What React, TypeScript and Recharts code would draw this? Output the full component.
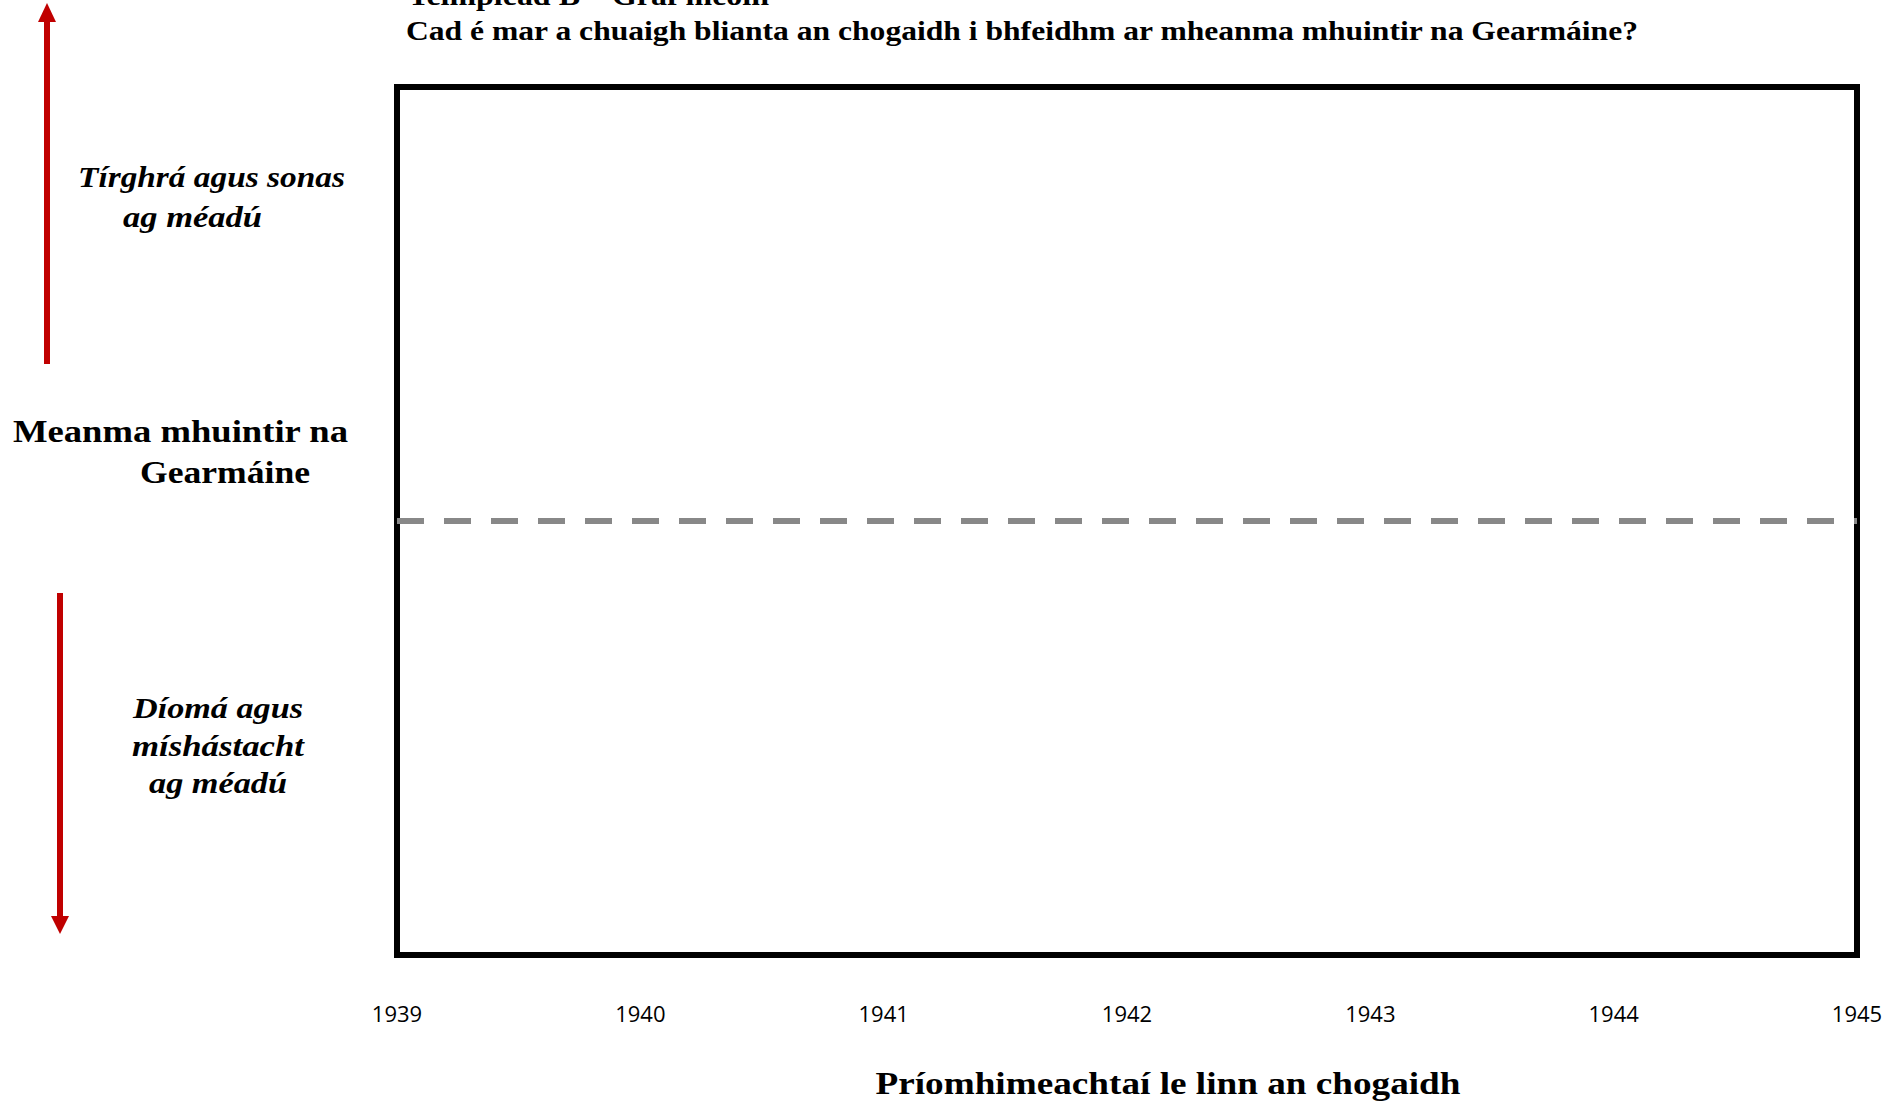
import React from "react";
import {
  LineChart,
  Line,
  XAxis,
  YAxis,
  ReferenceArea,
  ReferenceLine,
  Customized,
} from "recharts";

// Years along the bottom (the chart is an empty template to fill in)
const YEARS = [1939, 1940, 1941, 1942, 1943, 1944, 1945];
// Morale scale: -1 = discontent, 0 = neutral (dashed line), +1 = patriotism
const MORALE_MIN = -1;
const MORALE_MID = 0;
const MORALE_MAX = 1;
// No values entered yet in the template
const MORALE_VALUES: (number | null)[] = [null, null, null, null, null, null, null];

const HEADER = "Teimpléad B – Graf meoin";
const TITLE =
  "Cad é mar a chuaigh blianta an chogaidh i bhfeidhm ar mheanma mhuintir na Gearmáine?";
const X_LABEL = "Príomhimeachtaí le linn an chogaidh";
const Y_LABEL = ["Meanma mhuintir na", "Gearmáine"];
const UP_LABEL = ["Tírghrá agus sonas", "ag méadú"];
const DOWN_LABEL = ["Díomá agus", "míshástacht", "ag méadú"];

const data = YEARS.map((year, i) => ({ year, meanma: MORALE_VALUES[i] }));

const SERIF = "'Liberation Serif', 'DejaVu Serif', serif";
const RED = "#c00000";

function YearTick(props: any) {
  const { x, y, payload } = props;
  return (
    <text
      x={x}
      y={y + 59}
      textAnchor="middle"
      fontFamily="'Open Sans', sans-serif"
      fontSize={22}
      fill="#000"
    >
      {payload.value}
    </text>
  );
}

function Annotations() {
  return (
    <g>
      <text x={408} y={5} fontFamily={SERIF} fontWeight="bold" fontSize={27} textLength={361} lengthAdjust="spacingAndGlyphs">
        {HEADER}
      </text>
      <text x={406} y={40} fontFamily={SERIF} fontWeight="bold" fontSize={27} textLength={1232} lengthAdjust="spacingAndGlyphs">
        {TITLE}
      </text>

      {/* up arrow */}
      <line x1={47} y1={364} x2={47} y2={20} stroke={RED} strokeWidth={6} />
      <polygon points="38,22 56,22 47,3" fill={RED} />
      {/* down arrow */}
      <line x1={60} y1={593} x2={60} y2={918} stroke={RED} strokeWidth={6} />
      <polygon points="51,916 69,916 60,934" fill={RED} />

      <text x={78} y={187} fontFamily={SERIF} fontWeight="bold" fontStyle="italic" fontSize={30} textLength={267} lengthAdjust="spacingAndGlyphs">
        {UP_LABEL[0]}
      </text>
      <text x={123} y={227} fontFamily={SERIF} fontWeight="bold" fontStyle="italic" fontSize={30} textLength={139} lengthAdjust="spacingAndGlyphs">
        {UP_LABEL[1]}
      </text>

      <text x={13} y={442} fontFamily={SERIF} fontWeight="bold" fontSize={32} textLength={335} lengthAdjust="spacingAndGlyphs">
        {Y_LABEL[0]}
      </text>
      <text x={140} y={483} fontFamily={SERIF} fontWeight="bold" fontSize={32} textLength={170} lengthAdjust="spacingAndGlyphs">
        {Y_LABEL[1]}
      </text>

      {DOWN_LABEL.map((t, i) => (
        <text
          key={t}
          x={218}
          y={718 + i * 37.5}
          textAnchor="middle"
          fontFamily={SERIF}
          fontWeight="bold"
          fontStyle="italic"
          fontSize={29}
          textLength={[170, 172, 138][i]}
          lengthAdjust="spacingAndGlyphs"
        >
          {t}
        </text>
      ))}

      <text x={1168} y={1094} textAnchor="middle" fontFamily={SERIF} fontWeight="bold" fontSize={31} textLength={585} lengthAdjust="spacingAndGlyphs">
        {X_LABEL}
      </text>
    </g>
  );
}

export default function App() {
  return (
    <div style={{ position: "absolute", left: 0, top: 0, background: "#fff" }}>
      <LineChart
        width={1904}
        height={1107}
        data={data}
        margin={{ top: 87, right: 47, left: 397, bottom: 0 }}
      >
        <XAxis
          dataKey="year"
          type="number"
          domain={[YEARS[0], YEARS[YEARS.length - 1]]}
          allowDataOverflow
          ticks={YEARS}
          interval={0}
          axisLine={false}
          tickLine={false}
          height={152}
          tick={<YearTick />}
        />
        <YAxis
          hide
          type="number"
          domain={[MORALE_MIN, MORALE_MAX]}
          allowDataOverflow
        />
        <ReferenceLine
          y={MORALE_MID}
          stroke="#888"
          strokeWidth={6}
          strokeDasharray="27 20"
          ifOverflow="visible"
        />
        <ReferenceArea
          x1={YEARS[0]}
          x2={YEARS[YEARS.length - 1]}
          y1={MORALE_MIN}
          y2={MORALE_MAX}
          fill="none"
          fillOpacity={0}
          stroke="#000"
          strokeWidth={6}
          strokeOpacity={1}
          ifOverflow="visible"
        />
        <Line
          dataKey="meanma"
          stroke="#000"
          strokeWidth={3}
          dot={false}
          isAnimationActive={false}
        />
        <Customized component={Annotations} />
      </LineChart>
    </div>
  );
}
